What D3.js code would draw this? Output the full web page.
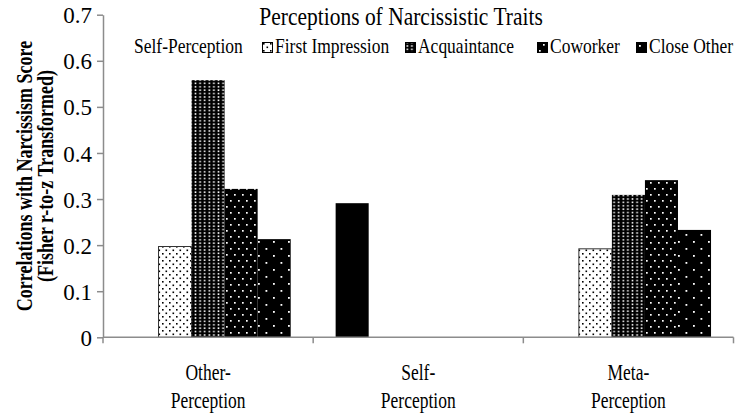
<!DOCTYPE html>
<html>
<head>
<meta charset="utf-8">
<script src="https://cdn.jsdelivr.net/npm/d3@7/dist/d3.min.js"></script>
<style>
  body { margin: 0; background: #fff; }
  svg text { font-family: "Liberation Serif", "Times New Roman", "DejaVu Serif", serif; fill: #000; }
</style>
</head>
<body>
<svg id="chart" width="748" height="414"></svg>
<script>
var categories = ['Other-Perception', 'Self-Perception', 'Meta-Perception']
var categoryLines = [['Other-', 'Perception'], ['Self-', 'Perception'], ['Meta-', 'Perception']]
var seriesNames = ['Self-Perception', 'First Impression', 'Acquaintance', 'Coworker', 'Close Other']

// values per series, one per category (null = no bar)
var selfPerception = [null, 0.291, null]
var firstImpression = [0.197, null, 0.192]
var acquaintance = [0.558, null, 0.309]
var coworker = [0.322, null, 0.341]
var closeOther = [0.213, null, 0.233]

var yTicks = [0, 0.1, 0.2, 0.3, 0.4, 0.5, 0.6, 0.7]
var yTickLabels = ['0', '0.1', '0.2', '0.3', '0.4', '0.5', '0.6', '0.7']

var seriesValues = [selfPerception, firstImpression, acquaintance, coworker, closeOther]
var fills = ['#000', 'url(#pFirst)', 'url(#pAcq)', 'url(#pCow)', 'url(#pClose)']

var svg = d3.select('#chart')
,   plotLeft = 103
,   plotRight = 733.5
,   plotTop = 14.7
,   plotBottom = 337.3

// --- patterns
var defs = svg.append('defs')

function dotPattern(id, w, h, bg, fg, dots, r) {
  var p = defs.append('pattern')
    .attr('id', id)
    .attr('patternUnits', 'userSpaceOnUse')
    .attr('width', w)
    .attr('height', h)
  p.append('rect').attr('width', w).attr('height', h).attr('fill', bg)
  dots.forEach(function(d) {
    p.append('rect')
      .attr('x', d[0]).attr('y', d[1])
      .attr('width', r).attr('height', r)
      .attr('fill', fg)
  })
}

dotPattern('pFirst', 7, 7, '#fff', '#000', [[1, 1], [4.5, 4.5]], 1.6)
dotPattern('pAcq', 4.6, 3.4, '#000', '#fff', [[1.5, 1]], 1.6)
dotPattern('pCow', 8, 12, '#000', '#fff', [[2, 2], [6, 8]], 1.7)
dotPattern('pClose', 15, 14, '#000', '#fff', [[3, 3], [10.5, 10]], 1.8)

// --- scales
var x = d3.scaleBand()
  .domain(categories)
  .range([plotLeft, plotRight])
  .paddingInner(0)
  .paddingOuter(0)

var xInner = d3.scaleBand()
  .domain(seriesNames)
  .range([0, x.bandwidth()])
  .paddingOuter(0.68)

var y = d3.scaleLinear()
  .domain([0, 0.7])
  .range([plotBottom, plotTop])

// --- bars
var bars = []
seriesValues.forEach(function(vals, s) {
  vals.forEach(function(v, c) {
    if (v !== null) bars.push({series: seriesNames[s], cat: categories[c], value: v, fill: fills[s], s: s})
  })
})

svg.append('g').selectAll('rect')
  .data(bars)
  .enter()
  .append('rect')
  .attr('x', (d) => x(d.cat) + xInner(d.series))
  .attr('y', (d) => y(d.value))
  .attr('width', xInner.bandwidth())
  .attr('height', (d) => y(0) - y(d.value))
  .attr('fill', (d) => d.fill)
  .attr('stroke', (d) => d.s === 1 ? '#333' : 'none')
  .attr('stroke-width', 1)

// --- y axis
var yAxis = d3.axisLeft(y)
  .tickValues(yTicks)
  .tickFormat((d, i) => yTickLabels[i])
  .tickSize(6)
  .tickSizeOuter(0)

var gy = svg.append('g')
  .attr('transform', 'translate(' + plotLeft + ',0)')
  .call(yAxis)
gy.select('.domain').attr('stroke', '#8c8c8c').attr('stroke-width', 1.5)
gy.selectAll('.tick line').attr('stroke', '#8c8c8c').attr('stroke-width', 1.5)
gy.selectAll('.tick text')
  .attr('x', -11)
  .attr('dy', '0.35em')
  .style('font-size', '23px')
  .style('font-family', '"Liberation Serif", "Times New Roman", "DejaVu Serif", serif')

// --- x axis (ticks between categories)
var gx = svg.append('g')
gx.append('line')
  .attr('x1', plotLeft).attr('x2', plotRight)
  .attr('y1', plotBottom).attr('y2', plotBottom)
  .attr('stroke', '#8c8c8c').attr('stroke-width', 1.5)

var boundaries = categories.map((c) => x(c)).concat([x(categories[categories.length - 1]) + x.bandwidth()])
gx.selectAll('.xtick')
  .data(boundaries)
  .enter()
  .append('line')
  .attr('class', 'xtick')
  .attr('x1', (d) => d).attr('x2', (d) => d)
  .attr('y1', plotBottom).attr('y2', plotBottom + 6)
  .attr('stroke', '#8c8c8c').attr('stroke-width', 1.5)

// category labels, a bit taller than wide like the source
var catLabels = gx.selectAll('.catlabel')
  .data(categories)
  .enter()
  .append('text')
  .attr('class', 'catlabel')
  .attr('text-anchor', 'middle')
  .attr('transform', (d) => 'translate(' + (x(d) + x.bandwidth() / 2) + ',0) scale(1,1.3)')
  .style('font-size', '17.5px')

catLabels.selectAll('tspan')
  .data((d, i) => categoryLines[i])
  .enter()
  .append('tspan')
  .attr('x', 0)
  .attr('y', (d, i) => (380 + i * 28) / 1.3)
  .text((d) => d)

// --- y title (rotated, glyphs stretched a little)
var yTitle = svg.append('text')
  .attr('transform', 'translate(0,176) rotate(-90) scale(1,1.25)')
  .attr('text-anchor', 'middle')
  .style('font-size', '18px')
  .style('font-weight', 'bold')
yTitle.append('tspan').attr('x', 0).attr('y', 32 / 1.25).text('Correlations with Narcissism Score')
yTitle.append('tspan').attr('x', 0).attr('y', 53 / 1.25).text('(Fisher r-to-z Transformed)')

// --- title
svg.append('text')
  .attr('transform', 'translate(401,0) scale(1,1.15)')
  .attr('y', 25 / 1.15)
  .attr('text-anchor', 'middle')
  .style('font-size', '21.5px')
  .text('Perceptions of Narcissistic Traits')

// --- legend
var legendX = [134, 262, 405, 537, 636]
var legend = svg.append('g')
  .selectAll('g')
  .data(seriesNames)
  .enter()
  .append('g')
  .attr('transform', (d, i) => 'translate(' + legendX[i] + ',0)')

legend.filter((d, i) => i > 0)
  .append('rect')
  .attr('x', 0.5).attr('y', 42.5)
  .attr('width', 10).attr('height', 10)
  .attr('fill', (d, i) => fills[i + 1])
  .attr('stroke', '#000')

legend.append('text')
  .attr('x', (d, i) => i > 0 ? 13 : 0)
  .attr('transform', 'scale(1,1.15)')
  .attr('y', 53.5 / 1.15)
  .style('font-size', '17.5px')
  .text((d) => d)
</script>
</body>
</html>
